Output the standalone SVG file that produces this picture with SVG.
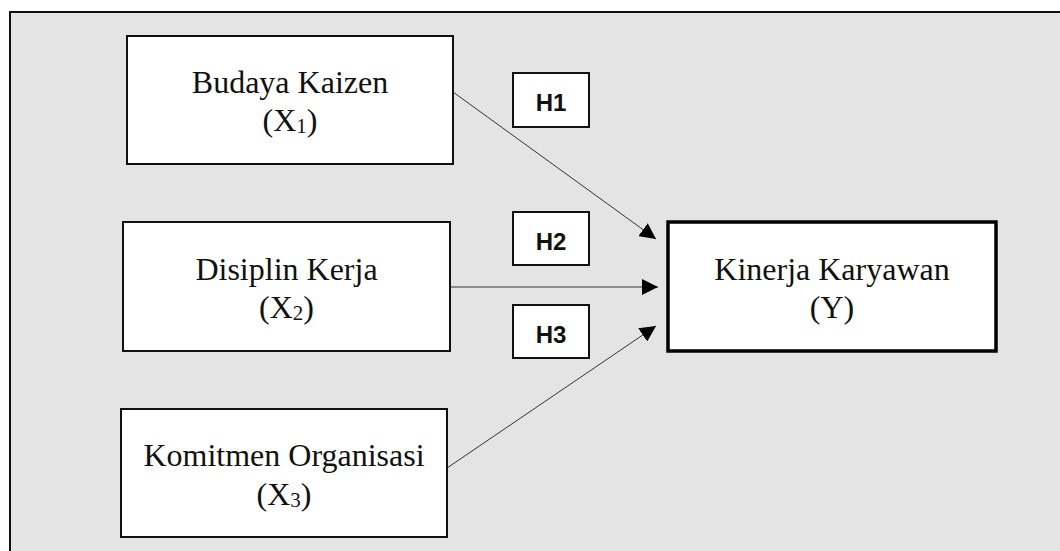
<svg xmlns="http://www.w3.org/2000/svg" width="1060" height="551" viewBox="0 0 1060 551">
<style>
.node{fill:#ffffff;stroke:#111111;stroke-width:2}
.nodey{fill:#ffffff;stroke:#000000;stroke-width:3.5}
.lbl{font-family:"Liberation Serif","Times New Roman",serif;font-size:32px;fill:#111111;text-anchor:middle}
.sub{font-size:21px}
.hbox{fill:#ffffff;stroke:#111111;stroke-width:2}
.htxt{font-family:"Liberation Sans",Arial,sans-serif;font-weight:bold;font-size:24px;fill:#111111;text-anchor:middle}
.conn{stroke:#333333;stroke-width:1;fill:none}
</style>
<defs>
<marker id="arr" markerUnits="userSpaceOnUse" markerWidth="18" markerHeight="16" refX="16" refY="8" orient="auto">
<path d="M0,0 L16,8 L0,16 Z" fill="#000000"/>
</marker>
</defs>
<rect x="0" y="0" width="1060" height="551" fill="#ffffff"/>
<rect id="frame" x="10" y="12" width="1060" height="560" fill="#e4e4e4" stroke="#111111" stroke-width="2"/>
<g id="connectors">
<line class="conn" x1="453" y1="92" x2="656" y2="239" marker-end="url(#arr)"/>
<line class="conn" x1="450" y1="287" x2="658" y2="287" stroke="#555555" marker-end="url(#arr)"/>
<line class="conn" x1="447" y1="468" x2="656" y2="326" marker-end="url(#arr)"/>
</g>
<g id="x1">
<rect class="node" x="127" y="36" width="326" height="128"/>
<text class="lbl" x="290" y="93">Budaya Kaizen</text>
<text class="lbl" x="290" y="131">(X<tspan class="sub" dy="2">1</tspan><tspan dy="-2">)</tspan></text>
</g>
<g id="x2">
<rect class="node" x="123" y="222" width="327" height="129"/>
<text class="lbl" x="286.5" y="280">Disiplin Kerja</text>
<text class="lbl" x="286.5" y="318">(X<tspan class="sub" dy="2">2</tspan><tspan dy="-2">)</tspan></text>
</g>
<g id="x3">
<rect class="node" x="121" y="409" width="326" height="128"/>
<text class="lbl" x="284" y="466">Komitmen Organisasi</text>
<text class="lbl" x="284" y="505">(X<tspan class="sub" dy="2">3</tspan><tspan dy="-2">)</tspan></text>
</g>
<g id="y">
<rect class="nodey" x="668" y="222" width="328" height="129"/>
<text class="lbl" x="832" y="280">Kinerja Karyawan</text>
<text class="lbl" x="832" y="318">(Y)</text>
</g>
<g id="h1">
<rect class="hbox" x="513" y="73" width="76" height="54"/>
<text class="htxt" x="551" y="111">H1</text>
</g>
<g id="h2">
<rect class="hbox" x="513" y="212" width="76" height="53"/>
<text class="htxt" x="551" y="250">H2</text>
</g>
<g id="h3">
<rect class="hbox" x="513" y="305" width="76" height="53"/>
<text class="htxt" x="551" y="343">H3</text>
</g>
</svg>
